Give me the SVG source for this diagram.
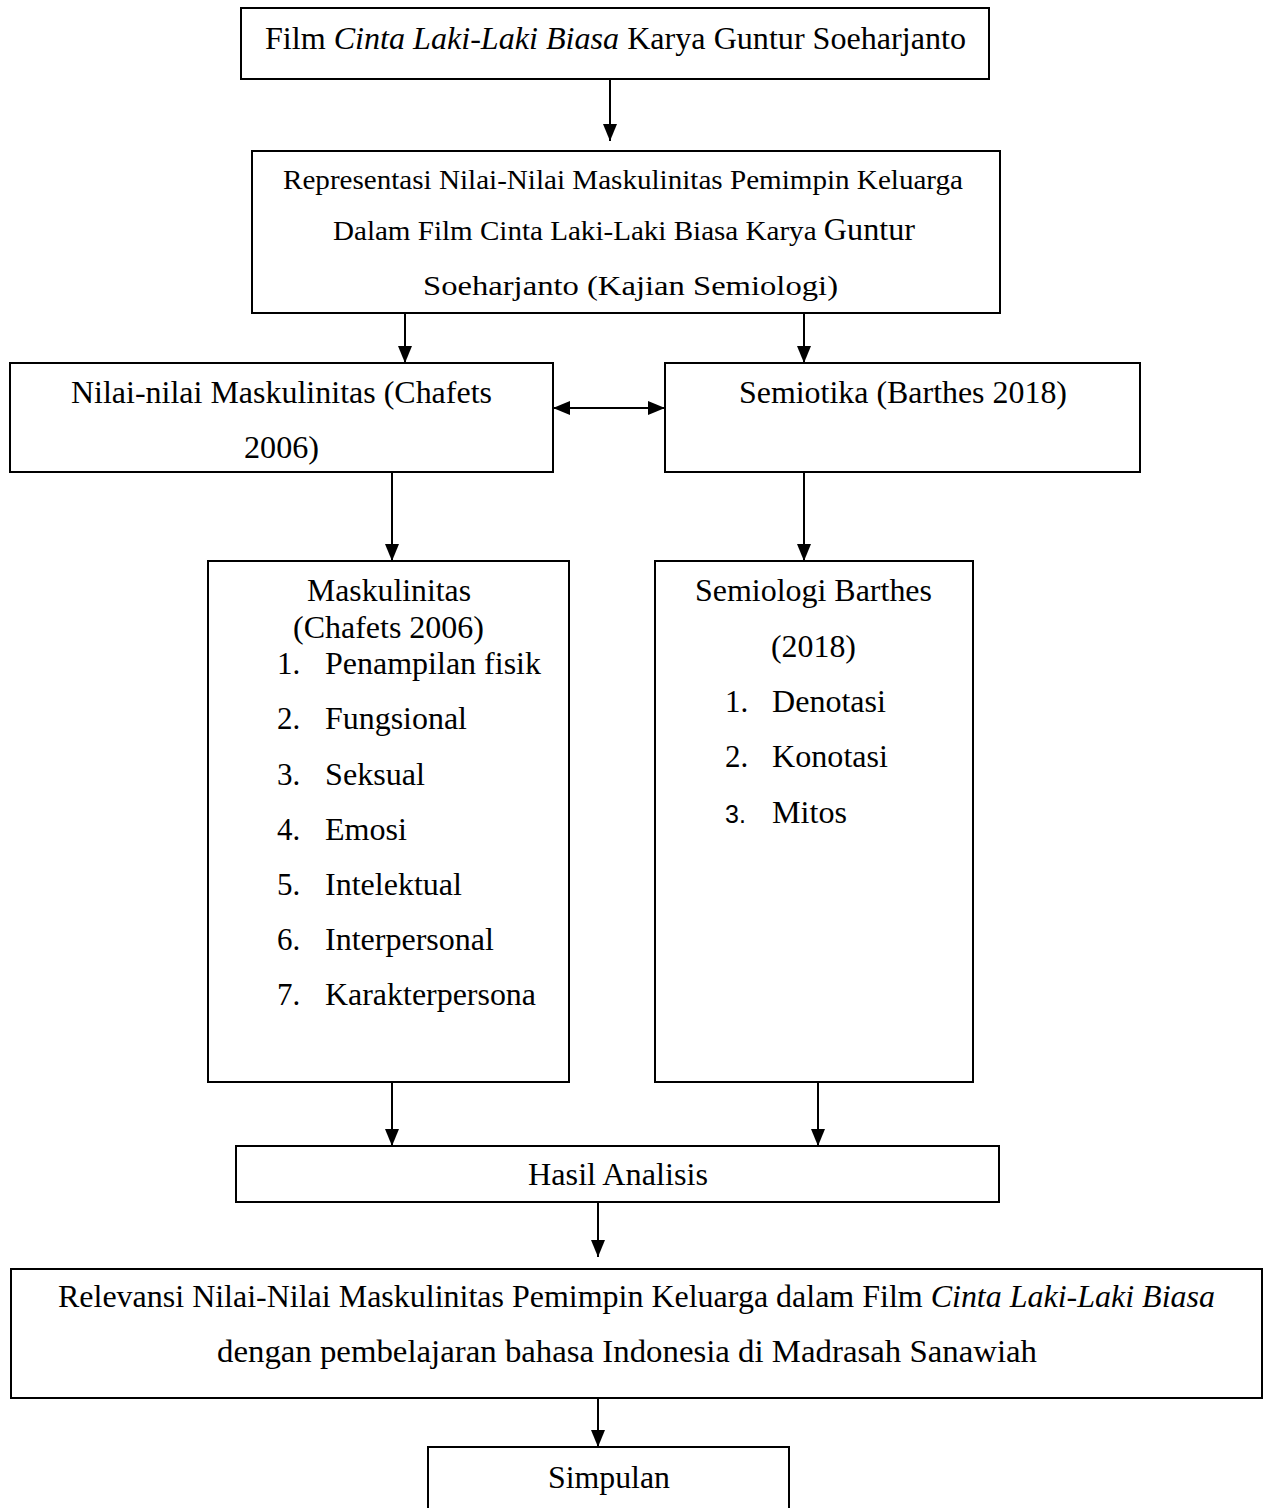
<svg xmlns="http://www.w3.org/2000/svg" width="1269" height="1508" viewBox="0 0 1269 1508">
<defs>
<style>
.box{fill:#fff;stroke:#000;stroke-width:2}
.t{font-family:"Liberation Serif","Times New Roman",serif;font-size:31px;fill:#000}
.t2{font-family:"Liberation Serif","Times New Roman",serif;font-size:28px;fill:#000}
.it{font-style:italic}
.sans{font-family:"Liberation Sans",Arial,sans-serif;font-size:25px;fill:#000}
.c{fill:none;stroke:#000;stroke-width:2}
</style>
<marker id="ah" viewBox="0 0 17 14" refX="17" refY="7" markerWidth="17" markerHeight="14" markerUnits="userSpaceOnUse" orient="auto-start-reverse">
<path d="M0,0 L17,7 L0,14 z" fill="#000"/>
</marker>
</defs>
<rect width="1269" height="1508" fill="#fff"/>

<g id="connectors">
<line class="c" x1="610" y1="79" x2="610" y2="141" marker-end="url(#ah)"/>
<line class="c" x1="405" y1="313" x2="405" y2="363" marker-end="url(#ah)"/>
<line class="c" x1="804" y1="313" x2="804" y2="363" marker-end="url(#ah)"/>
<line class="c" x1="553" y1="408" x2="665" y2="408" marker-start="url(#ah)" marker-end="url(#ah)"/>
<line class="c" x1="392" y1="472" x2="392" y2="561" marker-end="url(#ah)"/>
<line class="c" x1="804" y1="472" x2="804" y2="561" marker-end="url(#ah)"/>
<line class="c" x1="392" y1="1082" x2="392" y2="1146" marker-end="url(#ah)"/>
<line class="c" x1="818" y1="1082" x2="818" y2="1146" marker-end="url(#ah)"/>
<line class="c" x1="598" y1="1202" x2="598" y2="1257" marker-end="url(#ah)"/>
<line class="c" x1="598" y1="1398" x2="598" y2="1447" marker-end="url(#ah)"/>
</g>

<g id="film">
<rect class="box" x="241" y="8" width="748" height="71"/>
<text class="t" x="265" y="49" textLength="701" lengthAdjust="spacingAndGlyphs">Film <tspan class="it">Cinta Laki-Laki Biasa</tspan> Karya Guntur Soeharjanto</text>
</g>

<g id="representasi">
<rect class="box" x="252" y="151" width="748" height="162"/>
<text class="t2" x="283" y="189" textLength="680" lengthAdjust="spacingAndGlyphs">Representasi Nilai-Nilai Maskulinitas Pemimpin Keluarga</text>
<text class="t2" x="333" y="240" textLength="582" lengthAdjust="spacingAndGlyphs">Dalam Film Cinta Laki-Laki Biasa Karya <tspan style="font-size:31px">Guntur</tspan></text>
<text class="t2" x="423" y="295" textLength="415" lengthAdjust="spacingAndGlyphs">Soeharjanto (Kajian Semiologi)</text>
</g>

<g id="nilai">
<rect class="box" x="10" y="363" width="543" height="109"/>
<text class="t" x="71" y="403" textLength="421" lengthAdjust="spacingAndGlyphs">Nilai-nilai Maskulinitas (Chafets</text>
<text class="t" x="244" y="458" textLength="75" lengthAdjust="spacingAndGlyphs">2006)</text>
</g>

<g id="semiotika">
<rect class="box" x="665" y="363" width="475" height="109"/>
<text class="t" x="739" y="403" textLength="328" lengthAdjust="spacingAndGlyphs">Semiotika (Barthes 2018)</text>
</g>

<g id="maskulinitas">
<rect class="box" x="208" y="561" width="361" height="521"/>
<text class="t" x="307" y="601" textLength="164" lengthAdjust="spacingAndGlyphs">Maskulinitas</text>
<text class="t" x="293" y="638" textLength="191" lengthAdjust="spacingAndGlyphs">(Chafets 2006)</text>
<text class="t" x="277" y="674">1.</text><text class="t" x="325" y="674" textLength="216" lengthAdjust="spacingAndGlyphs">Penampilan fisik</text>
<text class="t" x="277" y="729">2.</text><text class="t" x="325" y="729" textLength="142" lengthAdjust="spacingAndGlyphs">Fungsional</text>
<text class="t" x="277" y="785">3.</text><text class="t" x="325" y="785" textLength="100" lengthAdjust="spacingAndGlyphs">Seksual</text>
<text class="t" x="277" y="840">4.</text><text class="t" x="325" y="840" textLength="82" lengthAdjust="spacingAndGlyphs">Emosi</text>
<text class="t" x="277" y="895">5.</text><text class="t" x="325" y="895" textLength="137" lengthAdjust="spacingAndGlyphs">Intelektual</text>
<text class="t" x="277" y="950">6.</text><text class="t" x="325" y="950" textLength="169" lengthAdjust="spacingAndGlyphs">Interpersonal</text>
<text class="t" x="277" y="1005">7.</text><text class="t" x="325" y="1005" textLength="211" lengthAdjust="spacingAndGlyphs">Karakterpersona</text>
</g>

<g id="semiologi">
<rect class="box" x="655" y="561" width="318" height="521"/>
<text class="t" x="695" y="601" textLength="237" lengthAdjust="spacingAndGlyphs">Semiologi Barthes</text>
<text class="t" x="771" y="657" textLength="85" lengthAdjust="spacingAndGlyphs">(2018)</text>
<text class="t" x="725" y="712">1.</text><text class="t" x="772" y="712" textLength="114" lengthAdjust="spacingAndGlyphs">Denotasi</text>
<text class="t" x="725" y="767">2.</text><text class="t" x="772" y="767" textLength="116" lengthAdjust="spacingAndGlyphs">Konotasi</text>
<text class="sans" x="725" y="823">3.</text><text class="t" x="772" y="823" textLength="75" lengthAdjust="spacingAndGlyphs">Mitos</text>
</g>

<g id="hasil">
<rect class="box" x="236" y="1146" width="763" height="56"/>
<text class="t" x="528" y="1185" textLength="180" lengthAdjust="spacingAndGlyphs">Hasil Analisis</text>
</g>

<g id="relevansi">
<rect class="box" x="11" y="1269" width="1251" height="129"/>
<text class="t" x="58" y="1307" textLength="1157" lengthAdjust="spacingAndGlyphs">Relevansi Nilai-Nilai Maskulinitas Pemimpin Keluarga dalam Film <tspan class="it">Cinta Laki-Laki Biasa</tspan></text>
<text class="t" x="217" y="1362" textLength="820" lengthAdjust="spacingAndGlyphs">dengan pembelajaran bahasa Indonesia di Madrasah Sanawiah</text>
</g>

<g id="simpulan">
<rect class="box" x="428" y="1447" width="361" height="80"/>
<text class="t" x="548" y="1488" textLength="122" lengthAdjust="spacingAndGlyphs">Simpulan</text>
</g>
</svg>
